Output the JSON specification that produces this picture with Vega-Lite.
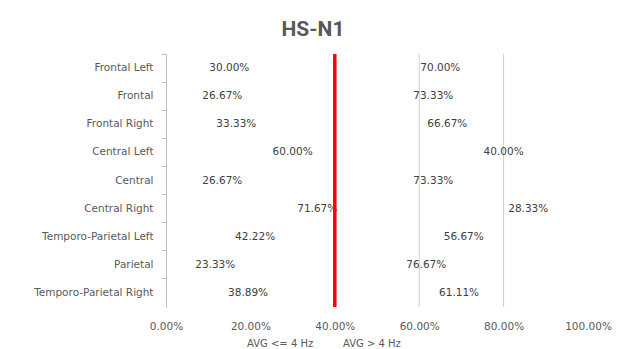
{
  "$schema": "https://vega.github.io/schema/vega-lite/v6.json",
  "width": 422,
  "height": 253,
  "autosize": {"type": "none"},
  "padding": {"left": 166, "top": 54, "right": 30, "bottom": 42},
  "background": "white",
  "title": {
    "text": "HS-N1",
    "font": "Roboto",
    "fontSize": 21,
    "fontWeight": "bold",
    "color": "#595959",
    "anchor": "middle",
    "frame": "group",
    "dx": -64,
    "offset": 12
  },
  "config": {"view": {"stroke": null}},
  "data": {
    "values": [
      {"region": "Frontal Left", "band": "AVG <= 4 Hz", "share": 0.3},
      {"region": "Frontal Left", "band": "AVG > 4 Hz", "share": 0.7},
      {"region": "Frontal", "band": "AVG <= 4 Hz", "share": 0.2667},
      {"region": "Frontal", "band": "AVG > 4 Hz", "share": 0.7333},
      {"region": "Frontal Right", "band": "AVG <= 4 Hz", "share": 0.3333},
      {"region": "Frontal Right", "band": "AVG > 4 Hz", "share": 0.6667},
      {"region": "Central Left", "band": "AVG <= 4 Hz", "share": 0.6},
      {"region": "Central Left", "band": "AVG > 4 Hz", "share": 0.4},
      {"region": "Central", "band": "AVG <= 4 Hz", "share": 0.2667},
      {"region": "Central", "band": "AVG > 4 Hz", "share": 0.7333},
      {"region": "Central Right", "band": "AVG <= 4 Hz", "share": 0.7167},
      {"region": "Central Right", "band": "AVG > 4 Hz", "share": 0.2833},
      {"region": "Temporo-Parietal Left", "band": "AVG <= 4 Hz", "share": 0.4222},
      {"region": "Temporo-Parietal Left", "band": "AVG > 4 Hz", "share": 0.5667},
      {"region": "Parietal", "band": "AVG <= 4 Hz", "share": 0.2333},
      {"region": "Parietal", "band": "AVG > 4 Hz", "share": 0.7667},
      {"region": "Temporo-Parietal Right", "band": "AVG <= 4 Hz", "share": 0.3889},
      {"region": "Temporo-Parietal Right", "band": "AVG > 4 Hz", "share": 0.6111}
    ]
  },
  "layer": [
    {
      "data": {"values": [{"pct": 0.6}, {"pct": 0.8}]},
      "mark": {"type": "rule", "color": "#d0d0d0", "strokeWidth": 1},
      "encoding": {
        "x": {"field": "pct", "type": "quantitative", "scale": {"domain": [0, 1], "nice": false}}
      }
    },
    {
      "transform": [
        {"stack": "share", "groupby": ["region"], "sort": [{"field": "band", "order": "ascending"}], "as": ["s0", "s1"]}
      ],
      "encoding": {
        "y": {
          "field": "region",
          "type": "nominal",
          "sort": ["Frontal Left", "Frontal", "Frontal Right", "Central Left", "Central", "Central Right", "Temporo-Parietal Left", "Parietal", "Temporo-Parietal Right"],
          "scale": {"paddingInner": 0, "paddingOuter": 0},
          "axis": {
            "title": null,
            "bandPosition": 0,
            "domainColor": "#bfbfbf",
            "tickColor": "#bfbfbf",
            "tickSize": 5,
            "labelPadding": 8,
            "labelFont": "DejaVu Sans",
            "labelFontSize": 10.5,
            "labelColor": "#595959",
            "grid": false
          }
        }
      },
      "layer": [
        {
          "mark": {"type": "bar", "opacity": 0},
          "encoding": {
            "x": {
              "field": "s0",
              "type": "quantitative",
              "scale": {"domain": [0, 1], "nice": false},
              "axis": {
                "title": null,
                "format": ".2%",
                "values": [0, 0.2, 0.4, 0.6, 0.8, 1],
                "domain": false,
                "ticks": false,
                "grid": false,
                "labelFlush": false,
                "labelPadding": 14,
                "labelFont": "DejaVu Sans",
                "labelFontSize": 10.5,
                "labelColor": "#595959"
              }
            },
            "x2": {"field": "s1"},
            "color": {
              "field": "band",
              "type": "nominal",
              "scale": {"domain": ["AVG <= 4 Hz", "AVG > 4 Hz"], "range": ["#4472c4", "#ed7d31"]},
              "legend": {
                "title": null,
                "orient": "none",
                "direction": "horizontal",
                "legendX": 67,
                "legendY": 285,
                "symbolOpacity": 0,
                "symbolSize": 36,
                "labelOffset": 4,
                "columnPadding": 15,
                "labelFont": "DejaVu Sans",
                "labelFontSize": 10,
                "labelColor": "#595959"
              }
            }
          }
        },
        {
          "transform": [
            {"fold": ["s0", "s1"], "as": ["edge", "edgeValue"]},
            {"aggregate": [{"op": "mean", "field": "edgeValue", "as": "mid"}], "groupby": ["region", "band", "share"]}
          ],
          "mark": {"type": "text", "font": "DejaVu Sans", "fontSize": 10.5, "color": "#404040", "align": "center", "baseline": "middle"},
          "encoding": {
            "x": {"field": "mid", "type": "quantitative"},
            "text": {"field": "share", "type": "quantitative", "format": ".2%"}
          }
        }
      ]
    },
    {
      "data": {"values": [{"pct": 0.4}]},
      "mark": {"type": "rule", "color": "#ff0000", "strokeWidth": 3.5},
      "encoding": {
        "x": {"field": "pct", "type": "quantitative"}
      }
    }
  ]
}
